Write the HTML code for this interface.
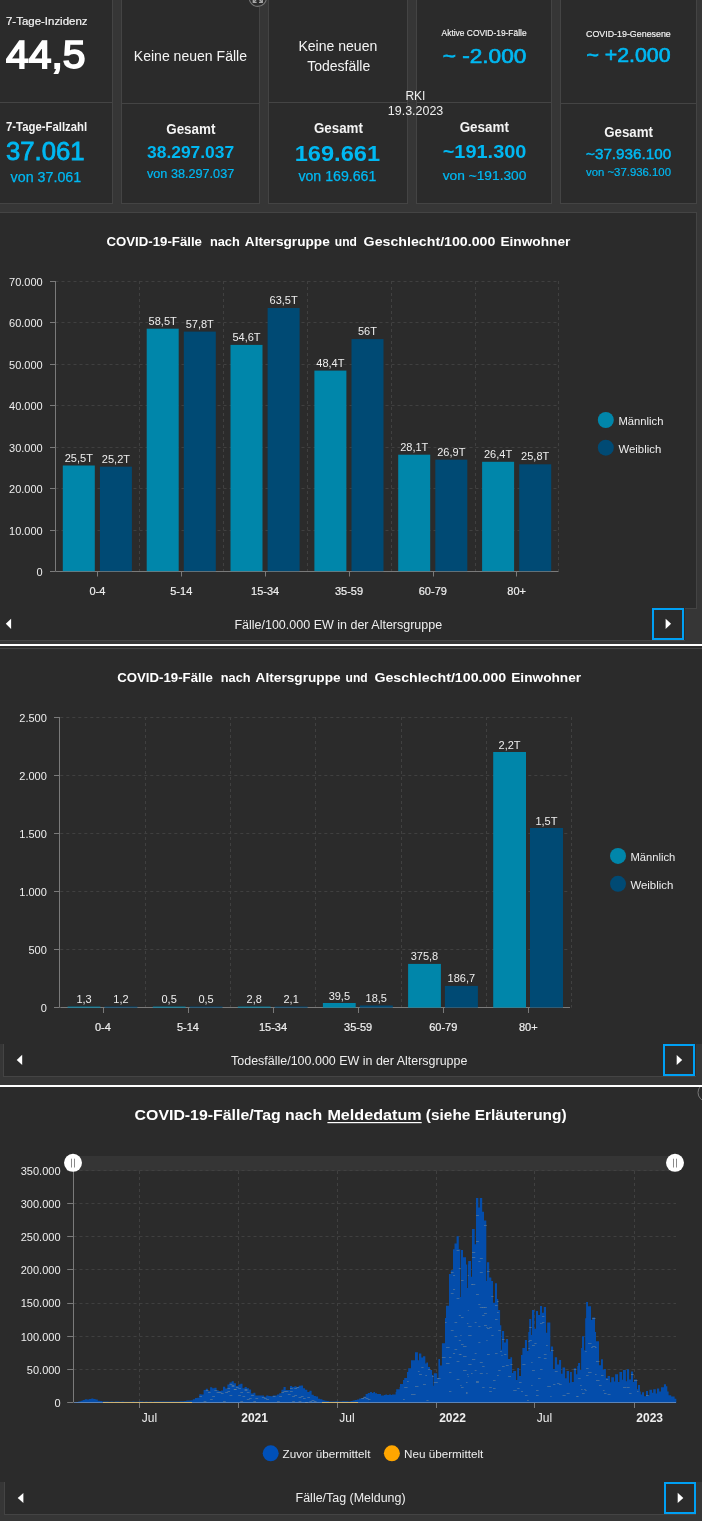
<!DOCTYPE html>
<html><head><meta charset="utf-8"><style>
*{margin:0;padding:0}
html,body{width:702px;height:1521px;overflow:hidden;background:#363636}
svg{display:block;font-family:"Liberation Sans",sans-serif;will-change:transform}
</style></head><body>
<svg width="702" height="1521" viewBox="0 0 702 1521">
<rect x="0" y="0" width="702" height="1521" fill="#363636" />
<rect x="-1" y="-1" width="114" height="205" fill="#444444" />
<rect x="0" y="0" width="112" height="203" fill="#2b2b2b" />
<rect x="-1" y="102" width="114" height="1" fill="#444444" />
<rect x="121" y="-1" width="139" height="205" fill="#444444" />
<rect x="122" y="0" width="137" height="203" fill="#2b2b2b" />
<rect x="121" y="103" width="139" height="1" fill="#444444" />
<rect x="268" y="-1" width="140" height="205" fill="#444444" />
<rect x="269" y="0" width="138" height="203" fill="#2b2b2b" />
<rect x="268" y="102" width="140" height="1" fill="#444444" />
<rect x="416" y="-1" width="136" height="205" fill="#444444" />
<rect x="417" y="0" width="134" height="203" fill="#2b2b2b" />
<rect x="416" y="102" width="136" height="1" fill="#444444" />
<rect x="560" y="-1" width="137" height="205" fill="#444444" />
<rect x="561" y="0" width="135" height="203" fill="#2b2b2b" />
<rect x="560" y="103" width="137" height="1" fill="#444444" />
<text x="6" y="25.3" font-size="11.5" fill="#f4f4f4" stroke="#f4f4f4" stroke-width="0.21" textLength="81.5" lengthAdjust="spacingAndGlyphs" >7-Tage-Inzidenz</text>
<text x="6" y="68.4" font-size="39" fill="#ffffff" stroke="#ffffff" stroke-width="1.75" textLength="79.5" lengthAdjust="spacingAndGlyphs" >44,5</text>
<text x="6" y="130.8" font-size="12.5" fill="#f4f4f4" font-weight="bold" textLength="81.2" lengthAdjust="spacingAndGlyphs" >7-Tage-Fallzahl</text>
<text x="6" y="159.8" font-size="25" fill="#00b8f2" stroke="#00b8f2" stroke-width="0.80" textLength="78.6" lengthAdjust="spacingAndGlyphs" >37.061</text>
<text x="10.6" y="181.5" font-size="14" fill="#00b8f2" stroke="#00b8f2" stroke-width="0.25" textLength="70.6" lengthAdjust="spacingAndGlyphs" >von 37.061</text>
<text x="133.8" y="61.2" font-size="14" fill="#f4f4f4" textLength="113.2" lengthAdjust="spacingAndGlyphs" >Keine neuen Fälle</text>
<text x="166.2" y="134.2" font-size="14" fill="#f4f4f4" font-weight="bold" textLength="49.3" lengthAdjust="spacingAndGlyphs" >Gesamt</text>
<text x="147" y="157.8" font-size="17" fill="#00b8f2" font-weight="bold" textLength="87.2" lengthAdjust="spacingAndGlyphs" >38.297.037</text>
<text x="147" y="178.4" font-size="13" fill="#00b8f2" stroke="#00b8f2" stroke-width="0.23" textLength="87.2" lengthAdjust="spacingAndGlyphs" >von 38.297.037</text>
<text x="298.4" y="51.2" font-size="14" fill="#f4f4f4" textLength="78.9" lengthAdjust="spacingAndGlyphs" >Keine neuen</text>
<text x="307.3" y="70.7" font-size="14" fill="#f4f4f4" textLength="62.9" lengthAdjust="spacingAndGlyphs" >Todesfälle</text>
<text x="313.9" y="132.5" font-size="14" fill="#f4f4f4" font-weight="bold" textLength="49.0" lengthAdjust="spacingAndGlyphs" >Gesamt</text>
<text x="294.7" y="160.7" font-size="21.5" fill="#00b8f2" font-weight="bold" textLength="85.4" lengthAdjust="spacingAndGlyphs" >169.661</text>
<text x="298.4" y="181" font-size="14" fill="#00b8f2" stroke="#00b8f2" stroke-width="0.25" textLength="78.0" lengthAdjust="spacingAndGlyphs" >von 169.661</text>
<text x="441.6" y="36.4" font-size="9" fill="#f4f4f4" stroke="#f4f4f4" stroke-width="0.16" textLength="85.0" lengthAdjust="spacingAndGlyphs" >Aktive COVID-19-Fälle</text>
<text x="442.7" y="62.9" font-size="21" fill="#00b8f2" stroke="#00b8f2" stroke-width="0.67" textLength="83.7" lengthAdjust="spacingAndGlyphs" >~ -2.000</text>
<text x="459.7" y="132" font-size="14" fill="#f4f4f4" font-weight="bold" textLength="49.2" lengthAdjust="spacingAndGlyphs" >Gesamt</text>
<text x="442.7" y="157.8" font-size="18" fill="#00b8f2" font-weight="bold" textLength="83.7" lengthAdjust="spacingAndGlyphs" >~191.300</text>
<text x="442.7" y="180" font-size="13" fill="#00b8f2" stroke="#00b8f2" stroke-width="0.23" textLength="83.7" lengthAdjust="spacingAndGlyphs" >von ~191.300</text>
<text x="586" y="37.1" font-size="9" fill="#f4f4f4" stroke="#f4f4f4" stroke-width="0.16" textLength="84.8" lengthAdjust="spacingAndGlyphs" >COVID-19-Genesene</text>
<text x="586.4" y="61.8" font-size="19.5" fill="#00b8f2" stroke="#00b8f2" stroke-width="0.62" textLength="84.2" lengthAdjust="spacingAndGlyphs" >~ +2.000</text>
<text x="604.2" y="137.3" font-size="14" fill="#f4f4f4" font-weight="bold" textLength="48.8" lengthAdjust="spacingAndGlyphs" >Gesamt</text>
<text x="586" y="159" font-size="15" fill="#00b8f2" stroke="#00b8f2" stroke-width="0.48" textLength="85.2" lengthAdjust="spacingAndGlyphs" >~37.936.100</text>
<text x="586" y="175.8" font-size="11" fill="#00b8f2" stroke="#00b8f2" stroke-width="0.20" textLength="85" lengthAdjust="spacingAndGlyphs" >von ~37.936.100</text>
<circle cx="257.8" cy="-2.2" r="8.6" fill="#2b2b2b" stroke="#777" stroke-width="1.1"/>
<path d="M253.3,-1 V2.4 H256.6 M253.3,2.4 L256,-0.3 M262.3,-1 V2.4 H259 M262.3,2.4 L259.6,-0.3" stroke="#a8a8a8" stroke-width="1.3" fill="none"/>
<text x="405.4" y="99.6" font-size="13.4" fill="#eeeeee" textLength="20.0" lengthAdjust="spacingAndGlyphs" >RKI</text>
<text x="387.8" y="115.2" font-size="13.4" fill="#eeeeee" textLength="55.5" lengthAdjust="spacingAndGlyphs" >19.3.2023</text>
<rect x="-1" y="212" width="698" height="397" fill="#444444" />
<rect x="0" y="213" width="696" height="395" fill="#2b2b2b" />
<text x="106.4" y="245.8" font-size="13.2" fill="#ffffff" font-weight="bold" textLength="95.6" lengthAdjust="spacingAndGlyphs" >COVID-19-Fälle</text>
<text x="209.9" y="245.8" font-size="13.2" fill="#ffffff" font-weight="bold" textLength="29.9" lengthAdjust="spacingAndGlyphs" >nach</text>
<text x="244.8" y="245.8" font-size="13.2" fill="#ffffff" font-weight="bold" textLength="85.0" lengthAdjust="spacingAndGlyphs" >Altersgruppe</text>
<text x="334.8" y="245.8" font-size="13.2" fill="#ffffff" font-weight="bold" textLength="22.1" lengthAdjust="spacingAndGlyphs" >und</text>
<text x="363.6" y="245.8" font-size="13.2" fill="#ffffff" font-weight="bold" textLength="131.8" lengthAdjust="spacingAndGlyphs" >Geschlecht/100.000</text>
<text x="500.4" y="245.8" font-size="13.2" fill="#ffffff" font-weight="bold" textLength="70.0" lengthAdjust="spacingAndGlyphs" >Einwohner</text>
<line x1="50" y1="571.5" x2="55.5" y2="571.5" stroke="#7a7a7a" stroke-width="1"/>
<text x="42.7" y="576.0" font-size="11" fill="#eeeeee" text-anchor="end" >0</text>
<line x1="55.5" y1="530.5" x2="558.5" y2="530.5" stroke="#404040" stroke-width="1" stroke-dasharray="3,3"/>
<line x1="50" y1="530.5" x2="55.5" y2="530.5" stroke="#7a7a7a" stroke-width="1"/>
<text x="42.7" y="534.5999999999999" font-size="11" fill="#eeeeee" text-anchor="end" >10.000</text>
<line x1="55.5" y1="488.5" x2="558.5" y2="488.5" stroke="#404040" stroke-width="1" stroke-dasharray="3,3"/>
<line x1="50" y1="488.5" x2="55.5" y2="488.5" stroke="#7a7a7a" stroke-width="1"/>
<text x="42.7" y="493.1" font-size="11" fill="#eeeeee" text-anchor="end" >20.000</text>
<line x1="55.5" y1="447.5" x2="558.5" y2="447.5" stroke="#404040" stroke-width="1" stroke-dasharray="3,3"/>
<line x1="50" y1="447.5" x2="55.5" y2="447.5" stroke="#7a7a7a" stroke-width="1"/>
<text x="42.7" y="451.7" font-size="11" fill="#eeeeee" text-anchor="end" >30.000</text>
<line x1="55.5" y1="405.5" x2="558.5" y2="405.5" stroke="#404040" stroke-width="1" stroke-dasharray="3,3"/>
<line x1="50" y1="405.5" x2="55.5" y2="405.5" stroke="#7a7a7a" stroke-width="1"/>
<text x="42.7" y="410.2" font-size="11" fill="#eeeeee" text-anchor="end" >40.000</text>
<line x1="55.5" y1="364.5" x2="558.5" y2="364.5" stroke="#404040" stroke-width="1" stroke-dasharray="3,3"/>
<line x1="50" y1="364.5" x2="55.5" y2="364.5" stroke="#7a7a7a" stroke-width="1"/>
<text x="42.7" y="368.8" font-size="11" fill="#eeeeee" text-anchor="end" >50.000</text>
<line x1="55.5" y1="322.5" x2="558.5" y2="322.5" stroke="#404040" stroke-width="1" stroke-dasharray="3,3"/>
<line x1="50" y1="322.5" x2="55.5" y2="322.5" stroke="#7a7a7a" stroke-width="1"/>
<text x="42.7" y="327.3" font-size="11" fill="#eeeeee" text-anchor="end" >60.000</text>
<line x1="55.5" y1="281.5" x2="558.5" y2="281.5" stroke="#404040" stroke-width="1" stroke-dasharray="3,3"/>
<line x1="50" y1="281.5" x2="55.5" y2="281.5" stroke="#7a7a7a" stroke-width="1"/>
<text x="42.7" y="285.90000000000003" font-size="11" fill="#eeeeee" text-anchor="end" >70.000</text>
<line x1="139.5" y1="281" x2="139.5" y2="571.2" stroke="#404040" stroke-width="1" stroke-dasharray="3,3"/>
<line x1="223.5" y1="281" x2="223.5" y2="571.2" stroke="#404040" stroke-width="1" stroke-dasharray="3,3"/>
<line x1="307.5" y1="281" x2="307.5" y2="571.2" stroke="#404040" stroke-width="1" stroke-dasharray="3,3"/>
<line x1="391.5" y1="281" x2="391.5" y2="571.2" stroke="#404040" stroke-width="1" stroke-dasharray="3,3"/>
<line x1="475.5" y1="281" x2="475.5" y2="571.2" stroke="#404040" stroke-width="1" stroke-dasharray="3,3"/>
<line x1="558.5" y1="281" x2="558.5" y2="571.2" stroke="#404040" stroke-width="1" stroke-dasharray="3,3"/>
<line x1="55.5" y1="281" x2="55.5" y2="571.2" stroke="#7a7a7a" stroke-width="1"/>
<line x1="55.5" y1="571.5" x2="558.5" y2="571.5" stroke="#7a7a7a" stroke-width="1"/>
<rect x="62.8" y="465.5" width="32" height="105.7" fill="#0086aa" />
<rect x="99.9" y="466.7" width="32" height="104.5" fill="#004a74" />
<text x="78.82499999999999" y="461.6" font-size="11" fill="#eeeeee" text-anchor="middle" >25,5T</text>
<text x="115.925" y="462.8" font-size="11" fill="#eeeeee" text-anchor="middle" >25,2T</text>
<line x1="97.5" y1="571.2" x2="97.5" y2="576.5" stroke="#7a7a7a" stroke-width="1"/>
<text x="97.425" y="594.6" font-size="11" fill="#eeeeee" stroke="#eeeeee" stroke-width="0.20" text-anchor="middle" >0-4</text>
<rect x="146.7" y="328.7" width="32" height="242.5" fill="#0086aa" />
<rect x="183.8" y="331.6" width="32" height="239.6" fill="#004a74" />
<text x="162.67499999999998" y="324.8" font-size="11" fill="#eeeeee" text-anchor="middle" >58,5T</text>
<text x="199.77499999999998" y="327.7" font-size="11" fill="#eeeeee" text-anchor="middle" >57,8T</text>
<line x1="181.5" y1="571.2" x2="181.5" y2="576.5" stroke="#7a7a7a" stroke-width="1"/>
<text x="181.27499999999998" y="594.6" font-size="11" fill="#eeeeee" stroke="#eeeeee" stroke-width="0.20" text-anchor="middle" >5-14</text>
<rect x="230.5" y="344.9" width="32" height="226.3" fill="#0086aa" />
<rect x="267.6" y="308.0" width="32" height="263.2" fill="#004a74" />
<text x="246.525" y="341.0" font-size="11" fill="#eeeeee" text-anchor="middle" >54,6T</text>
<text x="283.625" y="304.1" font-size="11" fill="#eeeeee" text-anchor="middle" >63,5T</text>
<line x1="265.5" y1="571.2" x2="265.5" y2="576.5" stroke="#7a7a7a" stroke-width="1"/>
<text x="265.125" y="594.6" font-size="11" fill="#eeeeee" stroke="#eeeeee" stroke-width="0.20" text-anchor="middle" >15-34</text>
<rect x="314.4" y="370.6" width="32" height="200.6" fill="#0086aa" />
<rect x="351.5" y="339.1" width="32" height="232.1" fill="#004a74" />
<text x="330.37499999999994" y="366.7" font-size="11" fill="#eeeeee" text-anchor="middle" >48,4T</text>
<text x="367.47499999999997" y="335.2" font-size="11" fill="#eeeeee" text-anchor="middle" >56T</text>
<line x1="349.5" y1="571.2" x2="349.5" y2="576.5" stroke="#7a7a7a" stroke-width="1"/>
<text x="348.97499999999997" y="594.6" font-size="11" fill="#eeeeee" stroke="#eeeeee" stroke-width="0.20" text-anchor="middle" >35-59</text>
<rect x="398.2" y="454.7" width="32" height="116.5" fill="#0086aa" />
<rect x="435.3" y="459.7" width="32" height="111.5" fill="#004a74" />
<text x="414.22499999999997" y="450.8" font-size="11" fill="#eeeeee" text-anchor="middle" >28,1T</text>
<text x="451.325" y="455.8" font-size="11" fill="#eeeeee" text-anchor="middle" >26,9T</text>
<line x1="433.5" y1="571.2" x2="433.5" y2="576.5" stroke="#7a7a7a" stroke-width="1"/>
<text x="432.825" y="594.6" font-size="11" fill="#eeeeee" stroke="#eeeeee" stroke-width="0.20" text-anchor="middle" >60-79</text>
<rect x="482.1" y="461.8" width="32" height="109.4" fill="#0086aa" />
<rect x="519.2" y="464.3" width="32" height="106.9" fill="#004a74" />
<text x="498.07499999999993" y="457.9" font-size="11" fill="#eeeeee" text-anchor="middle" >26,4T</text>
<text x="535.175" y="460.4" font-size="11" fill="#eeeeee" text-anchor="middle" >25,8T</text>
<line x1="516.5" y1="571.2" x2="516.5" y2="576.5" stroke="#7a7a7a" stroke-width="1"/>
<text x="516.675" y="594.6" font-size="11" fill="#eeeeee" stroke="#eeeeee" stroke-width="0.20" text-anchor="middle" >80+</text>
<circle cx="605.8" cy="420" r="8" fill="#0086aa"/>
<circle cx="605.8" cy="447.7" r="8" fill="#004a74"/>
<text x="618.5" y="425.1" font-size="11.5" fill="#eeeeee" textLength="45.0" lengthAdjust="spacingAndGlyphs" >Männlich</text>
<text x="618.5" y="452.8" font-size="11.5" fill="#eeeeee" textLength="42.7" lengthAdjust="spacingAndGlyphs" >Weiblich</text>
<rect x="0" y="608" width="685" height="33" fill="#2b2b2b" />
<rect x="0" y="640" width="685" height="1" fill="#444444" />
<rect x="652" y="608" width="32" height="32" fill="#00a0f4" />
<rect x="654" y="610" width="28" height="28" fill="#2b2b2b" />
<path d="M11.1,618.7 V629 L5.8,623.85 Z" fill="#fff"/>
<path d="M665.6,618.7 V629 L671.1,623.85 Z" fill="#fff"/>
<text x="234.4" y="628.8" font-size="12.5" fill="#eeeeee" textLength="207.8" lengthAdjust="spacingAndGlyphs" >Fälle/100.000 EW in der Altersgruppe</text>
<rect x="0" y="644" width="702" height="2" fill="#ffffff" />
<rect x="0" y="646" width="702" height="398" fill="#2b2b2b" />
<rect x="0" y="648" width="702" height="1" fill="#444444" />
<text x="117.2" y="681.9" font-size="13.2" fill="#ffffff" font-weight="bold" textLength="95.6" lengthAdjust="spacingAndGlyphs" >COVID-19-Fälle</text>
<text x="220.70000000000002" y="681.9" font-size="13.2" fill="#ffffff" font-weight="bold" textLength="29.9" lengthAdjust="spacingAndGlyphs" >nach</text>
<text x="255.60000000000002" y="681.9" font-size="13.2" fill="#ffffff" font-weight="bold" textLength="85.0" lengthAdjust="spacingAndGlyphs" >Altersgruppe</text>
<text x="345.6" y="681.9" font-size="13.2" fill="#ffffff" font-weight="bold" textLength="22.1" lengthAdjust="spacingAndGlyphs" >und</text>
<text x="374.40000000000003" y="681.9" font-size="13.2" fill="#ffffff" font-weight="bold" textLength="131.8" lengthAdjust="spacingAndGlyphs" >Geschlecht/100.000</text>
<text x="511.2" y="681.9" font-size="13.2" fill="#ffffff" font-weight="bold" textLength="70.0" lengthAdjust="spacingAndGlyphs" >Einwohner</text>
<line x1="54" y1="1007.5" x2="59.5" y2="1007.5" stroke="#7a7a7a" stroke-width="1"/>
<text x="46.8" y="1012.0" font-size="11" fill="#eeeeee" text-anchor="end" >0</text>
<line x1="60.3" y1="949.5" x2="570" y2="949.5" stroke="#404040" stroke-width="1" stroke-dasharray="3,3"/>
<line x1="54" y1="949.5" x2="59.5" y2="949.5" stroke="#7a7a7a" stroke-width="1"/>
<text x="46.8" y="953.9" font-size="11" fill="#eeeeee" text-anchor="end" >500</text>
<line x1="60.3" y1="891.5" x2="570" y2="891.5" stroke="#404040" stroke-width="1" stroke-dasharray="3,3"/>
<line x1="54" y1="891.5" x2="59.5" y2="891.5" stroke="#7a7a7a" stroke-width="1"/>
<text x="46.8" y="895.8" font-size="11" fill="#eeeeee" text-anchor="end" >1.000</text>
<line x1="60.3" y1="833.5" x2="570" y2="833.5" stroke="#404040" stroke-width="1" stroke-dasharray="3,3"/>
<line x1="54" y1="833.5" x2="59.5" y2="833.5" stroke="#7a7a7a" stroke-width="1"/>
<text x="46.8" y="837.6999999999999" font-size="11" fill="#eeeeee" text-anchor="end" >1.500</text>
<line x1="60.3" y1="775.5" x2="570" y2="775.5" stroke="#404040" stroke-width="1" stroke-dasharray="3,3"/>
<line x1="54" y1="775.5" x2="59.5" y2="775.5" stroke="#7a7a7a" stroke-width="1"/>
<text x="46.8" y="779.6" font-size="11" fill="#eeeeee" text-anchor="end" >2.000</text>
<line x1="60.3" y1="717.5" x2="570" y2="717.5" stroke="#404040" stroke-width="1" stroke-dasharray="3,3"/>
<line x1="54" y1="717.5" x2="59.5" y2="717.5" stroke="#7a7a7a" stroke-width="1"/>
<text x="46.8" y="721.5" font-size="11" fill="#eeeeee" text-anchor="end" >2.500</text>
<line x1="145.5" y1="717" x2="145.5" y2="1007.6" stroke="#404040" stroke-width="1" stroke-dasharray="3,3"/>
<line x1="230.5" y1="717" x2="230.5" y2="1007.6" stroke="#404040" stroke-width="1" stroke-dasharray="3,3"/>
<line x1="315.5" y1="717" x2="315.5" y2="1007.6" stroke="#404040" stroke-width="1" stroke-dasharray="3,3"/>
<line x1="401.5" y1="717" x2="401.5" y2="1007.6" stroke="#404040" stroke-width="1" stroke-dasharray="3,3"/>
<line x1="486.5" y1="717" x2="486.5" y2="1007.6" stroke="#404040" stroke-width="1" stroke-dasharray="3,3"/>
<line x1="571.5" y1="717" x2="571.5" y2="1007.6" stroke="#404040" stroke-width="1" stroke-dasharray="3,3"/>
<line x1="59.5" y1="717" x2="59.5" y2="1007.6" stroke="#7a7a7a" stroke-width="1"/>
<line x1="60.3" y1="1007.5" x2="570" y2="1007.5" stroke="#7a7a7a" stroke-width="1"/>
<rect x="67.6" y="1006.6" width="32.8" height="1" fill="#0086aa" />
<rect x="104.4" y="1006.6" width="33" height="1" fill="#004a74" />
<text x="84.05" y="1003.1" font-size="11" fill="#eeeeee" text-anchor="middle" >1,3</text>
<text x="120.94999999999999" y="1003.1" font-size="11" fill="#eeeeee" text-anchor="middle" >1,2</text>
<line x1="103.5" y1="1007.6" x2="103.5" y2="1013" stroke="#7a7a7a" stroke-width="1"/>
<text x="102.85" y="1031" font-size="11" fill="#eeeeee" stroke="#eeeeee" stroke-width="0.20" text-anchor="middle" >0-4</text>
<rect x="152.8" y="1006.6" width="32.8" height="1" fill="#0086aa" />
<rect x="189.5" y="1006.6" width="33" height="1" fill="#004a74" />
<text x="169.14999999999998" y="1003.1" font-size="11" fill="#eeeeee" text-anchor="middle" >0,5</text>
<text x="206.04999999999998" y="1003.1" font-size="11" fill="#eeeeee" text-anchor="middle" >0,5</text>
<line x1="188.5" y1="1007.6" x2="188.5" y2="1013" stroke="#7a7a7a" stroke-width="1"/>
<text x="187.95" y="1031" font-size="11" fill="#eeeeee" stroke="#eeeeee" stroke-width="0.20" text-anchor="middle" >5-14</text>
<rect x="237.8" y="1006.6" width="32.8" height="1" fill="#0086aa" />
<rect x="274.6" y="1006.6" width="33" height="1" fill="#004a74" />
<text x="254.24999999999994" y="1003.1" font-size="11" fill="#eeeeee" text-anchor="middle" >2,8</text>
<text x="291.15" y="1003.1" font-size="11" fill="#eeeeee" text-anchor="middle" >2,1</text>
<line x1="273.5" y1="1007.6" x2="273.5" y2="1013" stroke="#7a7a7a" stroke-width="1"/>
<text x="273.04999999999995" y="1031" font-size="11" fill="#eeeeee" stroke="#eeeeee" stroke-width="0.20" text-anchor="middle" >15-34</text>
<rect x="322.9" y="1003.0" width="32.8" height="4.6" fill="#0086aa" />
<rect x="359.8" y="1005.5" width="33" height="2.1" fill="#004a74" />
<text x="339.34999999999997" y="999.5" font-size="11" fill="#eeeeee" text-anchor="middle" >39,5</text>
<text x="376.25" y="1002.0" font-size="11" fill="#eeeeee" text-anchor="middle" >18,5</text>
<line x1="358.5" y1="1007.6" x2="358.5" y2="1013" stroke="#7a7a7a" stroke-width="1"/>
<text x="358.15" y="1031" font-size="11" fill="#eeeeee" stroke="#eeeeee" stroke-width="0.20" text-anchor="middle" >35-59</text>
<rect x="408.1" y="963.9" width="32.8" height="43.7" fill="#0086aa" />
<rect x="444.9" y="985.9" width="33" height="21.7" fill="#004a74" />
<text x="424.45" y="960.4" font-size="11" fill="#eeeeee" text-anchor="middle" >375,8</text>
<text x="461.35" y="982.4" font-size="11" fill="#eeeeee" text-anchor="middle" >186,7</text>
<line x1="443.5" y1="1007.6" x2="443.5" y2="1013" stroke="#7a7a7a" stroke-width="1"/>
<text x="443.25" y="1031" font-size="11" fill="#eeeeee" stroke="#eeeeee" stroke-width="0.20" text-anchor="middle" >60-79</text>
<rect x="493.2" y="752.0" width="32.8" height="255.6" fill="#0086aa" />
<rect x="530.0" y="828.0" width="33" height="179.6" fill="#004a74" />
<text x="509.55" y="748.5" font-size="11" fill="#eeeeee" text-anchor="middle" >2,2T</text>
<text x="546.45" y="824.5" font-size="11" fill="#eeeeee" text-anchor="middle" >1,5T</text>
<line x1="528.5" y1="1007.6" x2="528.5" y2="1013" stroke="#7a7a7a" stroke-width="1"/>
<text x="528.35" y="1031" font-size="11" fill="#eeeeee" stroke="#eeeeee" stroke-width="0.20" text-anchor="middle" >80+</text>
<circle cx="618" cy="855.9" r="8" fill="#0086aa"/>
<circle cx="618" cy="883.8" r="8" fill="#004a74"/>
<text x="630.4" y="860.7" font-size="11.5" fill="#eeeeee" textLength="44.9" lengthAdjust="spacingAndGlyphs" >Männlich</text>
<text x="630.4" y="888.7" font-size="11.5" fill="#eeeeee" textLength="42.9" lengthAdjust="spacingAndGlyphs" >Weiblich</text>
<rect x="0" y="1044" width="3" height="33" fill="#363636" />
<rect x="3" y="1044" width="1" height="33" fill="#444444" />
<rect x="4" y="1044" width="692" height="32" fill="#2b2b2b" />
<rect x="3" y="1076" width="693" height="1" fill="#444444" />
<rect x="696" y="1044" width="6" height="33" fill="#363636" />
<rect x="0" y="1077" width="702" height="8" fill="#363636" />
<rect x="663" y="1044" width="32" height="32" fill="#00a0f4" />
<rect x="665" y="1046" width="28" height="28" fill="#2b2b2b" />
<path d="M22.2,1054.8 V1065 L16.7,1059.9 Z" fill="#fff"/>
<path d="M676.7,1054.9 V1065 L682.2,1059.95 Z" fill="#fff"/>
<text x="231.1" y="1065.4" font-size="12.5" fill="#eeeeee" textLength="236.3" lengthAdjust="spacingAndGlyphs" >Todesfälle/100.000 EW in der Altersgruppe</text>
<rect x="0" y="1085" width="702" height="2" fill="#ffffff" />
<rect x="0" y="1087" width="702" height="395" fill="#2b2b2b" />
<circle cx="707" cy="1092.5" r="9" fill="none" stroke="#777" stroke-width="1"/>
<rect x="0" y="1085" width="702" height="2" fill="#ffffff" />
<text x="134.6" y="1119.6" font-size="15.3" fill="#ffffff" font-weight="bold" textLength="187.5" lengthAdjust="spacingAndGlyphs" >COVID-19-Fälle/Tag nach</text>
<text x="327.4" y="1119.6" font-size="15.3" fill="#ffffff" font-weight="bold" textLength="94.3" lengthAdjust="spacingAndGlyphs" >Meldedatum</text>
<text x="425.8" y="1119.6" font-size="15.3" fill="#ffffff" font-weight="bold" textLength="140.8" lengthAdjust="spacingAndGlyphs" >(siehe Erläuterung)</text>
<rect x="327.4" y="1122" width="94.3" height="1.2" fill="#ffffff" />
<rect x="73" y="1156" width="602" height="15" fill="#353535" />
<line x1="67.2" y1="1402.5" x2="73.5" y2="1402.5" stroke="#7a7a7a" stroke-width="1"/>
<text x="60.5" y="1406.8" font-size="11" fill="#eeeeee" text-anchor="end" >0</text>
<line x1="73.5" y1="1369.5" x2="676" y2="1369.5" stroke="#404040" stroke-width="1" stroke-dasharray="3,3"/>
<line x1="67.2" y1="1369.5" x2="73.5" y2="1369.5" stroke="#7a7a7a" stroke-width="1"/>
<text x="60.5" y="1373.6999999999998" font-size="11" fill="#eeeeee" text-anchor="end" >50.000</text>
<line x1="73.5" y1="1336.5" x2="676" y2="1336.5" stroke="#404040" stroke-width="1" stroke-dasharray="3,3"/>
<line x1="67.2" y1="1336.5" x2="73.5" y2="1336.5" stroke="#7a7a7a" stroke-width="1"/>
<text x="60.5" y="1340.5" font-size="11" fill="#eeeeee" text-anchor="end" >100.000</text>
<line x1="73.5" y1="1303.5" x2="676" y2="1303.5" stroke="#404040" stroke-width="1" stroke-dasharray="3,3"/>
<line x1="67.2" y1="1303.5" x2="73.5" y2="1303.5" stroke="#7a7a7a" stroke-width="1"/>
<text x="60.5" y="1307.3999999999999" font-size="11" fill="#eeeeee" text-anchor="end" >150.000</text>
<line x1="73.5" y1="1269.5" x2="676" y2="1269.5" stroke="#404040" stroke-width="1" stroke-dasharray="3,3"/>
<line x1="67.2" y1="1269.5" x2="73.5" y2="1269.5" stroke="#7a7a7a" stroke-width="1"/>
<text x="60.5" y="1274.1999999999998" font-size="11" fill="#eeeeee" text-anchor="end" >200.000</text>
<line x1="73.5" y1="1236.5" x2="676" y2="1236.5" stroke="#404040" stroke-width="1" stroke-dasharray="3,3"/>
<line x1="67.2" y1="1236.5" x2="73.5" y2="1236.5" stroke="#7a7a7a" stroke-width="1"/>
<text x="60.5" y="1241.1" font-size="11" fill="#eeeeee" text-anchor="end" >250.000</text>
<line x1="73.5" y1="1203.5" x2="676" y2="1203.5" stroke="#404040" stroke-width="1" stroke-dasharray="3,3"/>
<line x1="67.2" y1="1203.5" x2="73.5" y2="1203.5" stroke="#7a7a7a" stroke-width="1"/>
<text x="60.5" y="1208.0" font-size="11" fill="#eeeeee" text-anchor="end" >300.000</text>
<line x1="73.5" y1="1170.5" x2="676" y2="1170.5" stroke="#404040" stroke-width="1" stroke-dasharray="3,3"/>
<line x1="67.2" y1="1170.5" x2="73.5" y2="1170.5" stroke="#7a7a7a" stroke-width="1"/>
<text x="60.5" y="1174.8" font-size="11" fill="#eeeeee" text-anchor="end" >350.000</text>
<line x1="139.5" y1="1171" x2="139.5" y2="1402.2" stroke="#404040" stroke-width="1" stroke-dasharray="3,3"/>
<line x1="139.5" y1="1402.2" x2="139.5" y2="1408" stroke="#7a7a7a" stroke-width="1"/>
<line x1="238.5" y1="1171" x2="238.5" y2="1402.2" stroke="#404040" stroke-width="1" stroke-dasharray="3,3"/>
<line x1="238.5" y1="1402.2" x2="238.5" y2="1408" stroke="#7a7a7a" stroke-width="1"/>
<line x1="337.5" y1="1171" x2="337.5" y2="1402.2" stroke="#404040" stroke-width="1" stroke-dasharray="3,3"/>
<line x1="337.5" y1="1402.2" x2="337.5" y2="1408" stroke="#7a7a7a" stroke-width="1"/>
<line x1="436.5" y1="1171" x2="436.5" y2="1402.2" stroke="#404040" stroke-width="1" stroke-dasharray="3,3"/>
<line x1="436.5" y1="1402.2" x2="436.5" y2="1408" stroke="#7a7a7a" stroke-width="1"/>
<line x1="534.5" y1="1171" x2="534.5" y2="1402.2" stroke="#404040" stroke-width="1" stroke-dasharray="3,3"/>
<line x1="534.5" y1="1402.2" x2="534.5" y2="1408" stroke="#7a7a7a" stroke-width="1"/>
<line x1="634.5" y1="1171" x2="634.5" y2="1402.2" stroke="#404040" stroke-width="1" stroke-dasharray="3,3"/>
<line x1="634.5" y1="1402.2" x2="634.5" y2="1408" stroke="#7a7a7a" stroke-width="1"/>
<path d="M74,1403L74.0,1402.2H76.2L76.2,1401.9H78.3L78.3,1401.6H80.5L80.5,1400.7H82.6L82.6,1400.0H84.8L84.8,1399.2H87.0L87.0,1399.5H89.1L89.1,1398.9H91.3L91.3,1398.4H93.4L93.4,1399.1H95.6L95.6,1399.5H97.8L97.8,1400.7H99.9L99.9,1401.0H102.1L102.1,1401.4H104.2L104.2,1401.4H106.4L106.4,1401.5H108.6L108.6,1401.7H110.7L110.7,1401.6H112.9L112.9,1401.7H115.0L115.0,1401.6H117.2L117.2,1401.6H119.4L119.4,1401.7H121.5L121.5,1401.6H123.7L123.7,1401.7H125.8L125.8,1401.7H128.0L128.0,1401.7H130.2L130.2,1401.7H132.3L132.3,1401.6H134.5L134.5,1401.7H136.6L136.6,1401.7H138.8L138.8,1401.6H141.0L141.0,1401.6H143.1L143.1,1401.7H145.3L145.3,1401.6H147.4L147.4,1401.7H149.6L149.6,1401.6H151.8L151.8,1401.7H153.9L153.9,1401.6H156.1L156.1,1401.6H158.2L158.2,1401.5H160.4L160.4,1401.5H162.6L162.6,1401.6H164.7L164.7,1401.6H166.9L166.9,1401.6H169.0L169.0,1401.6H171.2L171.2,1401.6H173.4L173.4,1401.5H175.5L175.5,1401.4H177.7L177.7,1401.5H179.8L179.8,1401.3H182.0L182.0,1401.2H184.2L184.2,1401.0H186.3L186.3,1400.5H188.5L188.5,1400.5H190.6L190.6,1400.3H192.8L192.8,1399.3H195.0L195.0,1398.1H197.1L197.1,1397.8H199.3L199.3,1394.3H201.4L201.4,1394.4H203.6L203.6,1390.1H205.8L205.8,1388.7H207.9L207.9,1390.8H210.1L210.1,1387.2H212.2L212.2,1388.2H214.4L214.4,1387.7H216.6L216.6,1390.3H218.7L218.7,1391.0H220.9L220.9,1390.4H223.0L223.0,1386.8H225.2L225.2,1388.5H227.4L227.4,1384.6H229.5L229.5,1382.5H231.7L231.7,1381.2H233.8L233.8,1383.2H236.0L236.0,1386.0H238.2L238.2,1384.4H240.3L240.3,1383.8H242.5L242.5,1388.3H244.6L244.6,1387.1H246.8L246.8,1388.3H249.0L249.0,1389.4H251.1L251.1,1393.5H253.3L253.3,1392.7H255.4L255.4,1395.4H257.6L257.6,1395.5H259.8L259.8,1395.4H261.9L261.9,1395.4H264.1L264.1,1396.7H266.2L266.2,1395.6H268.4L268.4,1396.1H270.6L270.6,1396.2H272.7L272.7,1395.6H274.9L274.9,1395.4H277.0L277.0,1394.5H279.2L279.2,1393.2H281.4L281.4,1389.7H283.5L283.5,1386.9H285.7L285.7,1389.9H287.8L287.8,1390.1H290.0L290.0,1385.9H292.2L292.2,1386.9H294.3L294.3,1386.3H296.5L296.5,1387.1H298.6L298.6,1385.7H300.8L300.8,1385.6H303.0L303.0,1388.3H305.1L305.1,1389.7H307.3L307.3,1392.1H309.4L309.4,1390.7H311.6L311.6,1394.7H313.8L313.8,1395.9H315.9L315.9,1396.6H318.1L318.1,1398.8H320.2L320.2,1399.3H322.4L322.4,1400.3H324.6L324.6,1400.7H326.7L326.7,1401.0H328.9L328.9,1401.4H331.0L331.0,1401.4H333.2L333.2,1401.5H335.4L335.4,1401.3H337.5L337.5,1401.5H339.7L339.7,1401.4H341.8L341.8,1401.3H344.0L344.0,1401.3H346.2L346.2,1401.3H348.3L348.3,1401.4H350.5L350.5,1401.1H352.6L352.6,1400.4H354.8L354.8,1399.9H357.0L357.0,1399.4H359.1L359.1,1398.5H361.3L361.3,1397.9H363.4L363.4,1396.5H365.6L365.6,1394.0H367.8L367.8,1393.0H369.9L369.9,1402.2H370.0L370.0,1392.1H372.0L372.0,1393.0H373.4L373.4,1392.1H375.0L375.0,1393.2H377.0L377.0,1394.0H381.0L381.0,1395.5H384.0L384.0,1395.0H385.4L385.4,1394.4H387.0L387.0,1395.0H389.0L389.0,1394.4H391.0L391.0,1395.0H392.0L392.0,1394.4H395.6L395.6,1392.0H396.2L396.2,1389.3H399.6L399.6,1387.0H400.0L400.0,1384.1H403.0L403.0,1380.0H404.2L404.2,1377.9H407.0L407.0,1372.0H408.2L408.2,1368.2H411.0L411.0,1360.2H415.0L415.0,1352.2H417.9L417.9,1360.2H419.0L419.0,1353.4H421.3L421.3,1357.4H423.0L423.0,1356.2H425.3L425.3,1363.6H426.4L426.4,1362.5H428.0L428.0,1367.0H430.0L430.0,1369.9H432.0L432.0,1375.0H433.2L433.2,1385.8H433.8L433.8,1373.3H437.2L437.2,1377.9H438.4L438.4,1359.0H440.0L440.0,1365.5H441.9L441.9,1343.3H445.0L445.0,1318.0H446.0L446.0,1305.7H449.0L449.0,1273.9H450.8L450.8,1270.3H453.0L453.0,1249.3H454.5L454.5,1243.5H456.6L456.6,1236.3H458.8L458.8,1249.3H460.3L460.3,1297.0H461.0L461.0,1250.0H463.0L463.0,1257.3H466.0L466.0,1264.5H467.0L467.0,1288.0H467.8L467.8,1264.5H468.2L468.2,1260.9H471.0L471.0,1276.8H472.0L472.0,1229.0H474.7L474.7,1244.2H476.0L476.0,1198.0H478.3L478.3,1207.4H479.8L479.8,1198.0H482.2L482.2,1211.7H484.0L484.0,1220.4H486.3L486.3,1281.0H487.0L487.0,1262.3H489.2L489.2,1277.5H491.3L491.3,1281.0H493.0L493.0,1302.8H495.0L495.0,1283.2H497.0L497.0,1299.0H498.2L498.2,1309.9H500.1L500.1,1325.3H501.3L501.3,1349.8H502.0L502.0,1331.0H504.1L504.1,1342.4H505.8L505.8,1339.0H508.1L508.1,1358.9H510.4L510.4,1357.2H512.1L512.1,1373.1H513.2L513.2,1370.9H516.1L516.1,1380.0H517.2L517.2,1368.0H519.0L519.0,1376.0H521.0L521.0,1354.9H522.4L522.4,1348.0H524.9L524.9,1340.0H527.0L527.0,1350.9H528.3L528.3,1332.1H529.2L529.2,1319.0H531.2L531.2,1335.0H532.0L532.0,1309.9H534.3L534.3,1328.7H536.0L536.0,1311.0H538.0L538.0,1315.0H540.0L540.0,1305.9H542.0L542.0,1312.7H543.8L543.8,1307.0H546.0L546.0,1332.7H547.2L547.2,1322.4H550.3L550.3,1351.5H551.0L551.0,1346.4H553.1L553.1,1369.1H554.8L554.8,1357.2H557.1L557.1,1364.6H559.0L559.0,1360.0H561.1L561.1,1373.7H562.5L562.5,1367.4H565.1L565.1,1378.3H566.6L566.6,1370.9H569.1L569.1,1382.8H570.0L570.0,1372.0H571.9L571.9,1381.9H573.8L573.8,1368.2H576.0L576.0,1374.2H577.3L577.3,1366.1H578.1L578.1,1363.1H580.1L580.1,1369.9H581.1L581.1,1348.1H582.0L582.0,1336.2H584.1L584.1,1350.3H585.2L585.2,1318.2H586.1L586.1,1302.0H588.0L588.0,1306.2H591.0L591.0,1319.9H592.2L592.2,1317.4H595.0L595.0,1331.9H596.0L596.0,1341.3H599.0L599.0,1365.2H601.0L601.0,1359.2H602.9L602.9,1369.9H604.0L604.0,1369.1H605.9L605.9,1378.0H607.6L607.6,1375.9H610.0L610.0,1382.3H611.2L611.2,1377.2H614.0L614.0,1381.5H615.1L615.1,1374.2H618.0L618.0,1381.9H619.4L619.4,1372.0H622.1L622.1,1379.7H623.0L623.0,1369.9H625.9L625.9,1381.2H626.9L626.9,1369.2H629.1L629.1,1379.5H631.0L631.0,1371.4H633.1L633.1,1382.0H634.0L634.0,1379.5H637.0L637.0,1389.3H638.0L638.0,1385.0H640.0L640.0,1391.5H640.8L640.8,1394.4H642.0L642.0,1392.3H644.0L644.0,1396.2H646.0L646.0,1391.0H648.0L648.0,1395.3H649.4L649.4,1389.7H652.0L652.0,1392.7H653.2L653.2,1389.3H655.8L655.8,1393.6H657.0L657.0,1388.5H659.2L659.2,1391.5H661.0L661.0,1387.2H663.9L663.9,1384.2H666.0L666.0,1386.3H667.3L667.3,1391.5H668.6L668.6,1395.3H671.2L671.2,1396.6H674.6L674.6,1398.7H676.3L676.3,1403Z" fill="#044dab"/>
<path d="M199.3,1396.5H202.0M203.6,1401.5H206.4M205.8,1390.5H208.5M207.9,1392.5H210.7M210.1,1399.5H212.8M212.2,1396.5H215.0M214.4,1390.5H217.2M216.6,1392.5H219.3M218.7,1392.5H221.5M220.9,1393.5H223.6M223.0,1401.5H225.8M225.2,1392.5H228.0M227.4,1388.5H230.1M227.4,1391.5H230.1M229.5,1395.5H232.3M229.5,1384.5H232.3M231.7,1385.5H234.4M231.7,1386.5H234.4M233.8,1389.5H236.6M233.8,1389.5H236.6M236.0,1387.5H238.8M238.2,1388.5H240.9M238.2,1395.5H240.9M240.3,1392.5H243.1M240.3,1401.5H243.1M242.5,1396.5H245.2M244.6,1390.5H247.4M244.6,1389.5H247.4M246.8,1399.5H249.6M246.8,1392.5H249.6M249.0,1398.5H251.7M251.1,1395.5H253.9M253.3,1401.5H256.0M255.4,1398.5H258.2M261.9,1397.5H264.7M264.1,1398.5H266.8M266.2,1399.5H269.0M272.7,1396.5H275.5M277.0,1401.5H279.8M279.2,1396.5H282.0M281.4,1392.5H284.1M283.5,1391.5H286.3M285.7,1391.5H288.4M287.8,1394.5H290.6M290.0,1388.5H292.8M290.0,1391.5H292.8M292.2,1401.5H294.9M292.2,1396.5H294.9M294.3,1395.5H297.1M294.3,1388.5H297.1M296.5,1387.5H299.2M298.6,1397.5H301.4M298.6,1401.5H301.4M300.8,1396.5H303.6M303.0,1398.5H305.7M305.1,1402.5H307.9M307.3,1397.5H310.0M309.4,1401.5H312.2M311.6,1400.5H314.4M313.8,1401.5H316.5M361.3,1398.5H364.0M363.4,1397.5H366.2M365.6,1398.5H368.4M367.8,1399.5H370.5M403.0,1399.5H404.8M404.2,1387.5H407.6M407.0,1381.5H408.8M411.0,1394.5H415.6M415.0,1386.5H418.5M417.9,1371.5H419.6M419.0,1374.5H421.9M421.3,1367.5H423.6M423.0,1384.5H425.9M425.3,1375.5H427.0M426.4,1400.5H428.6M428.0,1369.5H430.6M432.0,1376.5H433.8M433.8,1382.5H437.8M437.2,1378.5H439.0M438.4,1378.5H440.6M441.9,1357.5H445.6M445.0,1322.5H446.6M446.0,1347.5H449.6M446.0,1363.5H449.6M449.0,1372.5H451.4M449.0,1391.5H451.4M449.0,1357.5H451.4M450.8,1330.5H453.6M450.8,1293.5H453.6M450.8,1272.5H453.6M453.0,1353.5H455.1M453.0,1275.5H455.1M453.0,1289.5H455.1M454.5,1349.5H457.2M454.5,1322.5H457.2M454.5,1336.5H457.2M456.6,1298.5H459.4M456.6,1361.5H459.4M456.6,1379.5H459.4M456.6,1250.5H459.4M458.8,1354.5H460.9M458.8,1268.5H460.9M458.8,1315.5H460.9M458.8,1340.5H460.9M460.3,1335.5H461.6M460.3,1354.5H461.6M460.3,1385.5H461.6M461.0,1387.5H463.6M461.0,1317.5H463.6M461.0,1344.5H463.6M461.0,1280.5H463.6M463.0,1370.5H466.6M463.0,1346.5H466.6M463.0,1356.5H466.6M466.0,1382.5H467.6M466.0,1393.5H467.6M466.0,1392.5H467.6M467.0,1374.5H468.4M467.0,1323.5H468.4M467.8,1376.5H468.8M467.8,1310.5H468.8M467.8,1275.5H468.8M468.2,1335.5H471.6M468.2,1364.5H471.6M468.2,1326.5H471.6M471.0,1373.5H472.6M471.0,1284.5H472.6M472.0,1257.5H475.3M472.0,1284.5H475.3M472.0,1359.5H475.3M472.0,1252.5H475.3M474.7,1322.5H476.6M474.7,1353.5H476.6M474.7,1370.5H476.6M476.0,1381.5H478.9M476.0,1294.5H478.9M476.0,1382.5H478.9M476.0,1215.5H478.9M476.0,1241.5H478.9M478.3,1261.5H480.4M478.3,1342.5H480.4M478.3,1326.5H480.4M478.3,1304.5H480.4M479.8,1307.5H482.8M479.8,1258.5H482.8M479.8,1272.5H482.8M479.8,1362.5H482.8M479.8,1373.5H482.8M482.2,1366.5H484.6M482.2,1387.5H484.6M482.2,1307.5H484.6M482.2,1315.5H484.6M484.0,1313.5H486.9M484.0,1307.5H486.9M484.0,1325.5H486.9M484.0,1225.5H486.9M486.3,1340.5H487.6M486.3,1327.5H487.6M486.3,1373.5H487.6M487.0,1328.5H489.8M487.0,1354.5H489.8M487.0,1271.5H489.8M489.2,1327.5H491.9M489.2,1391.5H491.9M489.2,1387.5H491.9M491.3,1335.5H493.6M491.3,1296.5H493.6M493.0,1380.5H495.6M493.0,1388.5H495.6M495.0,1319.5H497.6M495.0,1305.5H497.6M495.0,1353.5H497.6M497.0,1312.5H498.8M497.0,1375.5H498.8M497.0,1301.5H498.8M498.2,1330.5H500.7M498.2,1370.5H500.7M500.1,1351.5H501.9M501.3,1355.5H502.6M502.0,1339.5H504.7M502.0,1366.5H504.7M504.1,1354.5H506.4M505.8,1365.5H508.7M508.1,1376.5H511.0M510.4,1364.5H512.7M513.2,1390.5H516.7M517.2,1388.5H519.6M519.0,1382.5H521.6M521.0,1391.5H523.0M522.4,1364.5H525.5M524.9,1395.5H527.6M527.0,1400.5H528.9M528.3,1341.5H529.8M528.3,1348.5H529.8M529.2,1340.5H531.8M529.2,1327.5H531.8M531.2,1362.5H532.6M531.2,1385.5H532.6M532.0,1345.5H534.9M532.0,1370.5H534.9M534.3,1343.5H536.6M536.0,1390.5H538.6M536.0,1395.5H538.6M538.0,1357.5H540.6M538.0,1378.5H540.6M540.0,1369.5H542.6M540.0,1323.5H542.6M542.0,1322.5H544.4M542.0,1316.5H544.4M543.8,1354.5H546.6M543.8,1358.5H546.6M546.0,1345.5H547.8M547.2,1386.5H550.9M550.3,1396.5H551.6M551.0,1350.5H553.7M553.1,1384.5H555.4M554.8,1371.5H557.7M557.1,1383.5H559.6M559.0,1384.5H561.7M562.5,1395.5H565.7M566.6,1393.5H569.7M573.8,1369.5H576.6M576.0,1396.5H577.9M577.3,1396.5H578.7M578.1,1378.5H580.7M580.1,1385.5H581.7M581.1,1389.5H582.6M582.0,1393.5H584.7M584.1,1389.5H585.8M585.2,1351.5H586.7M585.2,1390.5H586.7M586.1,1368.5H588.6M586.1,1375.5H588.6M588.0,1343.5H591.6M588.0,1372.5H591.6M591.0,1347.5H592.8M592.2,1318.5H595.6M592.2,1346.5H595.6M595.0,1374.5H596.6M595.0,1347.5H596.6M596.0,1380.5H599.6M596.0,1361.5H599.6M599.0,1385.5H601.6M601.0,1375.5H603.5M602.9,1390.5H604.6M604.0,1393.5H606.5M605.9,1379.5H608.2M607.6,1394.5H610.6M623.0,1387.5H626.5M626.9,1387.5H629.7M629.1,1393.5H631.6M631.0,1374.5H633.7M634.0,1380.5H637.6M637.0,1391.5H638.6M646.0,1395.5H648.6" stroke="rgba(150,155,150,0.4)" stroke-width="1" fill="none"/>
<rect x="103" y="1402" width="89" height="1" fill="#d0a030" />
<rect x="322" y="1402" width="36" height="1" fill="#d0a030" />
<line x1="73.5" y1="1171" x2="73.5" y2="1402.2" stroke="#7a7a7a" stroke-width="1"/>
<rect x="74" y="1402" width="602" height="1" fill="rgba(200,200,200,0.45)" />
<text x="149.5" y="1421.9" font-size="12" fill="#eeeeee" text-anchor="middle" >Jul</text>
<text x="254.6" y="1421.9" font-size="12" fill="#eeeeee" font-weight="bold" text-anchor="middle" >2021</text>
<text x="347" y="1421.9" font-size="12" fill="#eeeeee" text-anchor="middle" >Jul</text>
<text x="452.5" y="1421.9" font-size="12" fill="#eeeeee" font-weight="bold" text-anchor="middle" >2022</text>
<text x="544.4" y="1421.9" font-size="12" fill="#eeeeee" text-anchor="middle" >Jul</text>
<text x="649.7" y="1421.9" font-size="12" fill="#eeeeee" font-weight="bold" text-anchor="middle" >2023</text>
<circle cx="73" cy="1162.8" r="9" fill="#ffffff"/>
<line x1="71.5" y1="1158.7" x2="71.5" y2="1167.5" stroke="#8a8a8a" stroke-width="1"/>
<line x1="74.5" y1="1158.7" x2="74.5" y2="1167.5" stroke="#8a8a8a" stroke-width="1"/>
<circle cx="675" cy="1162.8" r="9" fill="#ffffff"/>
<line x1="673.5" y1="1158.7" x2="673.5" y2="1167.5" stroke="#8a8a8a" stroke-width="1"/>
<line x1="676.5" y1="1158.7" x2="676.5" y2="1167.5" stroke="#8a8a8a" stroke-width="1"/>
<circle cx="270.7" cy="1453.3" r="8" fill="#0050b8"/>
<circle cx="391.9" cy="1453.3" r="8" fill="#ffa600"/>
<text x="282.6" y="1457.5" font-size="11" fill="#eeeeee" textLength="87.8" lengthAdjust="spacingAndGlyphs" >Zuvor übermittelt</text>
<text x="404" y="1457.5" font-size="11" fill="#eeeeee" textLength="79.3" lengthAdjust="spacingAndGlyphs" >Neu übermittelt</text>
<rect x="0" y="1482" width="4" height="40" fill="#363636" />
<rect x="4" y="1482" width="1" height="32" fill="#444444" />
<rect x="5" y="1482" width="691" height="32" fill="#2b2b2b" />
<rect x="4" y="1514" width="692" height="1" fill="#444444" />
<rect x="696" y="1482" width="6" height="40" fill="#363636" />
<rect x="0" y="1515" width="702" height="6" fill="#363636" />
<rect x="664" y="1482" width="32" height="32" fill="#00a0f4" />
<rect x="666" y="1484" width="28" height="28" fill="#2b2b2b" />
<path d="M23.4,1493 V1503 L17.7,1498 Z" fill="#fff"/>
<path d="M677.7,1492.8 V1503 L683.3,1497.9 Z" fill="#fff"/>
<text x="295.6" y="1502" font-size="12.5" fill="#eeeeee" textLength="110.0" lengthAdjust="spacingAndGlyphs" >Fälle/Tag (Meldung)</text>
</svg>
</body></html>
